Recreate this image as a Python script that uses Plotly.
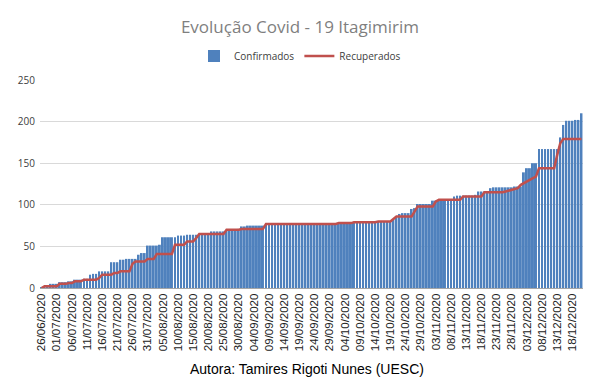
import pandas as pd
import plotly.graph_objects as go

start_date = "2020-06-26"
n_days = 179
dates = [d.strftime("%d/%m/%Y") for d in pd.date_range(start_date, periods=n_days, freq="D")]

confirmados = [
    1, 1, 2, 5, 5, 5, 7, 7, 7, 8, 8, 10, 10, 10, 11, 11, 16, 17, 17, 20,
    20, 20, 20, 31, 31, 31, 34, 34, 35, 35, 35, 35, 40, 42, 42, 51, 51, 51, 51, 52,
    61, 61, 61, 61, 61, 63, 63, 63, 64, 64, 64, 64, 65, 65, 66, 66, 68, 68, 68, 68,
    68, 69, 70, 70, 70, 71, 74, 74, 75, 75, 75, 75, 75, 75, 77, 77, 77, 77, 77, 77,
    77, 77, 77, 77, 77, 77, 77, 77, 77, 77, 77, 77, 77, 77, 77, 77, 77, 77, 78, 78,
    78, 78, 78, 79, 79, 79, 79, 79, 79, 79, 79, 80, 80, 80, 80, 80, 82, 85, 89, 90,
    90, 90, 95, 96, 101, 101, 101, 101, 101, 105, 105, 105, 105, 105, 105, 105, 110, 111, 111, 111,
    111, 111, 111, 112, 116, 116, 116, 116, 120, 121, 121, 121, 121, 121, 121, 121, 122, 122, 122, 139,
    144, 144, 150, 150, 167, 167, 167, 167, 167, 167, 167, 181, 196, 201, 201, 201, 202, 202, 210,
]

recuperados = [
    0, 2, 2, 2, 2, 2, 5, 5, 5, 6, 6, 8, 8, 8, 10, 10, 10, 10, 10, 12,
    16, 16, 16, 16, 18, 18, 20, 20, 20, 20, 29, 32, 32, 32, 32, 35, 35, 35, 41, 41,
    41, 41, 41, 41, 52, 52, 52, 52, 56, 56, 56, 60, 65, 65, 65, 65, 65, 65, 65, 65,
    65, 70, 70, 70, 70, 70, 71, 71, 71, 71, 71, 71, 71, 71, 77, 77, 77, 77, 77, 77,
    77, 77, 77, 77, 77, 77, 77, 77, 77, 77, 77, 77, 77, 77, 77, 77, 77, 77, 78, 78,
    78, 78, 78, 79, 79, 79, 79, 79, 79, 79, 79, 80, 80, 80, 80, 80, 83, 86, 86, 86,
    86, 86, 86, 92, 98, 98, 98, 98, 98, 98, 104, 106, 106, 106, 106, 106, 106, 106, 106, 110,
    110, 110, 110, 110, 110, 110, 115, 115, 115, 115, 115, 115, 115, 116, 117, 118, 119, 120, 124, 126,
    127, 130, 132, 134, 144, 144, 144, 144, 144, 144, 160, 174, 179, 179, 179, 179, 179, 179, 179,
]

tick_labels = dates[::5]
y_ticks = [0, 50, 100, 150, 200, 250]

# page offset of 8px (default body margin) compensated in the figure size
W, H = 593, 377
L, R, T, B = 32, 18, 72, 97
PW, PH = W - L - R, H - T - B

fig = go.Figure()
fig.add_trace(go.Bar(
    x=dates, y=confirmados, name="Confirmados",
    marker=dict(color="#4f81bd", line=dict(width=0)),
))
fig.add_trace(go.Scatter(
    x=dates, y=recuperados, name="Recuperados", mode="lines",
    line=dict(color="#c0504d", width=2.5),
))

fig.update_layout(
    width=W, height=H,
    margin=dict(l=L, r=R, t=T, b=B, autoexpand=False),
    paper_bgcolor="white", plot_bgcolor="white",
    bargap=0.35,
    title=dict(text="Evolução Covid - 19 Itagimirim", x=292 / W, xanchor="center", xref="container",
               y=1 - 19 / H, yanchor="middle", yref="container",
               font=dict(family="Open Sans", size=17, color="#7f7f7f")),
    legend=dict(orientation="h", x=(292 - L) / PW, xanchor="center",
                y=1 + 24 / PH, yanchor="middle",
                font=dict(family="Open Sans", size=10, color="#404040"),
                bgcolor="rgba(0,0,0,0)"),
    showlegend=True,
)
fig.update_xaxes(
    type="category", tickmode="array", tickvals=tick_labels, ticktext=tick_labels,
    tickangle=-90, tickfont=dict(family="Liberation Sans", size=11.5, color="#222222"),
    showgrid=False, showline=True, linecolor="#a6a6a6", linewidth=1, ticks="",
    automargin=False,
)
fig.update_yaxes(
    range=[0, 250], tickvals=y_ticks, showgrid=True, gridcolor="#d9d9d9", gridwidth=1,
    zeroline=False, showline=False, ticks="", automargin=False, ticklabelstandoff=4,
    tickfont=dict(family="Open Sans", size=10, color="#404040"),
)
fig.add_annotation(
    text="Autora: Tamires Rigoti Nunes (UESC)", xref="paper", yref="paper",
    x=(299 - L) / PW, y=-81 / PH, xanchor="center", yanchor="middle", showarrow=False,
    font=dict(family="Liberation Sans", size=14, color="#000000"),
)

fig.write_html("out.html")
